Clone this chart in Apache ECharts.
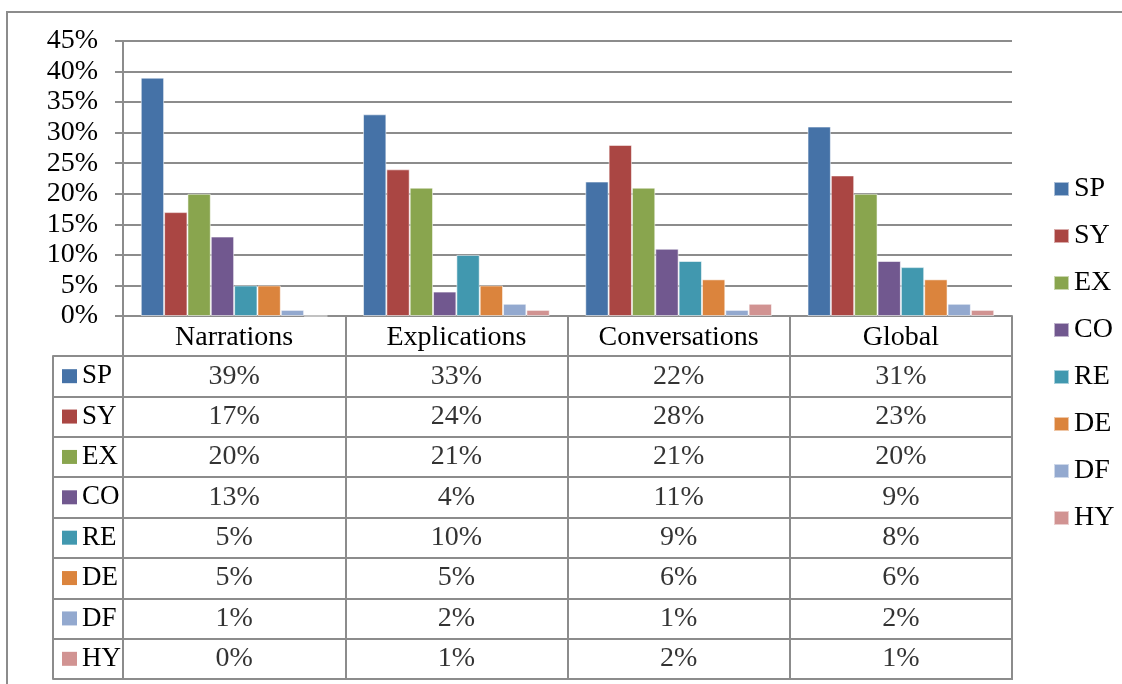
<!DOCTYPE html>
<html>
<head>
<meta charset="utf-8">
<script src="https://cdn.jsdelivr.net/npm/echarts@6/dist/echarts.min.js"></script>
<style>
  html, body { margin: 0; padding: 0; background: #fff; }
  #chart { width: 1122px; height: 684px; }
</style>
</head>
<body>
<div id="chart"></div>
<script>
// Discourse types across text genres (share of each type, in percent)
const categories = ['Narrations', 'Explications', 'Conversations', 'Global'];
const seriesNames = ['SP', 'SY', 'EX', 'CO', 'RE', 'DE', 'DF', 'HY'];
const SP = [39, 33, 22, 31];
const SY = [17, 24, 28, 23];
const EX = [20, 21, 21, 20];
const CO = [13, 4, 11, 9];
const RE = [5, 10, 9, 8];
const DE = [5, 5, 6, 6];
const DF = [1, 2, 1, 2];
const HY = [0, 1, 2, 1];
const yTicks = { min: 0, max: 45, interval: 5 };

const seriesValues = [SP, SY, EX, CO, RE, DE, DF, HY];
const colors = ['#4572A7', '#AA4643', '#89A54E', '#71588F', '#4198AF', '#DB843D', '#93A9CF', '#D19392'];

const FONT = '"Liberation Serif", "DejaVu Serif", serif';
const FS = 28;
const LINE = '#8c8c8c';

// rich text styles for the colour keys in the table's first column
const rich = { t: { fontFamily: FONT, fontSize: 27, color: '#000', padding: [0, 0, 0, 5] } };
seriesNames.forEach((n, i) => {
  rich['k' + i] = { backgroundColor: colors[i], width: 15, height: 14 };
});

// cells of the data table: [category, row name, value]
const tableCells = [];
seriesNames.forEach((n, i) => {
  categories.forEach((c, j) => tableCells.push([c, n, seriesValues[i][j]]));
});

const chart = echarts.init(document.getElementById('chart'), null, { renderer: 'canvas' });

const barSeries = seriesNames.map((n, i) => ({
  name: n,
  type: 'bar',
  xAxisIndex: 0,
  yAxisIndex: 0,
  data: seriesValues[i],
  barGap: '0%',
  barCategoryGap: '16%',
  itemStyle: { color: colors[i], borderColor: 'rgba(255,255,255,0.55)', borderWidth: 1 }
}));

chart.setOption({
  animation: false,
  textStyle: { fontFamily: FONT },
  graphic: [{
    type: 'rect',
    shape: { x: 7, y: 12, width: 1300, height: 900 },
    style: { fill: 'none', stroke: LINE, lineWidth: 2 },
    silent: true
  }],
  legend: {
    orient: 'vertical',
    left: 1048,
    top: 170,
    itemWidth: 15,
    itemHeight: 14,
    itemGap: 19,
    icon: 'rect',
    data: seriesNames,
    textStyle: { fontFamily: FONT, fontSize: FS, color: '#000' }
  },
  grid: [
    { left: 123, right: 110, top: 41, bottom: 368 },
    { left: 123, right: 110, top: 356, bottom: 5, show: true, borderColor: LINE, borderWidth: 2, backgroundColor: 'transparent' }
  ],
  xAxis: [
    {
      type: 'category',
      gridIndex: 0,
      data: categories,
      axisLine: { lineStyle: { color: LINE, width: 2 } },
      axisTick: { show: true, length: 40, lineStyle: { color: LINE, width: 2 } },
      axisLabel: { margin: 8, fontFamily: FONT, fontSize: FS, color: '#000' },
      splitLine: { show: false }
    },
    {
      type: 'category',
      gridIndex: 1,
      data: categories,
      axisLine: { show: false },
      axisTick: { show: false },
      axisLabel: { show: false },
      splitLine: { show: true, lineStyle: { color: LINE, width: 2 } }
    }
  ],
  yAxis: [
    {
      type: 'value',
      gridIndex: 0,
      min: yTicks.min,
      max: yTicks.max,
      interval: yTicks.interval,
      axisLine: { show: true, lineStyle: { color: LINE, width: 2 } },
      axisTick: { show: true, length: 8, lineStyle: { color: LINE, width: 2 } },
      axisLabel: { margin: 25, padding: [4, 0, 0, 0], formatter: '{value}%', fontFamily: FONT, fontSize: FS, color: '#000' },
      splitLine: { show: true, lineStyle: { color: LINE, width: 2 } }
    },
    {
      type: 'category',
      gridIndex: 1,
      inverse: true,
      data: seriesNames,
      axisLine: { show: false },
      axisTick: { show: true, length: 70, lineStyle: { color: LINE, width: 2 } },
      axisLabel: {
        align: 'left',
        margin: 61,
        formatter: (v) => '{k' + seriesNames.indexOf(v) + '|}{t|' + v + '}',
        rich: rich
      },
      splitLine: { show: true, lineStyle: { color: LINE, width: 2 } }
    },
    {
      // left edge of the table's key column
      type: 'category',
      gridIndex: 1,
      inverse: true,
      data: seriesNames,
      position: 'left',
      offset: 70,
      axisLine: { show: true, lineStyle: { color: LINE, width: 2 } },
      axisTick: { show: false },
      axisLabel: { show: false },
      splitLine: { show: false }
    }
  ],
  series: barSeries.concat([{
    name: 'table',
    type: 'scatter',
    xAxisIndex: 1,
    yAxisIndex: 1,
    symbolSize: 0,
    silent: true,
    data: tableCells,
    encode: { x: 0, y: 1 },
    label: {
      show: true,
      position: 'inside',
      formatter: (p) => p.value[2] + '%',
      fontFamily: FONT,
      fontSize: FS,
      color: '#000'
    }
  }])
});
</script>
</body>
</html>
